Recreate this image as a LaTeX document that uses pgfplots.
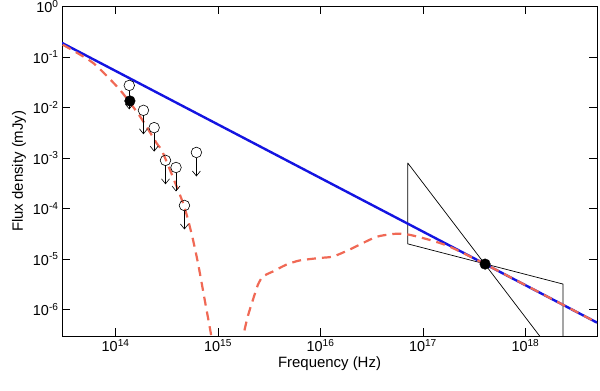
\documentclass[border=0pt]{standalone}
\usepackage{fontspec}
\setmainfont{Liberation Sans}
\usepackage{pgfplots}
\pgfplotsset{compat=1.18}
\usetikzlibrary{arrows.meta}
\definecolor{fitblue}{RGB}{20,20,225}
\definecolor{modelred}{RGB}{240,105,85}

\begin{document}
\begin{tikzpicture}
\begin{axis}[
  name=sed,
  xmode=log, ymode=log, log basis x=10, log basis y=10,
  scale only axis, width=535bp, height=329.5bp,
  xmin=3e13, xmax=5e18, ymin=3e-7, ymax=1,
  axis line style={line width=0.6bp},
  tick align=inside, major tick length=8bp, minor tick length=4bp,
  every tick/.style={black, line width=0.5bp},
  yminorticks=false,
  xtick={1e14,1e15,1e16,1e17,1e18},
  ytick={1e-6,1e-5,1e-4,1e-3,1e-2,1e-1,1},
  xticklabel={10\textsuperscript{\pgfmathprintnumber[fixed,precision=0,assume math mode=true]{\tick}}},
  yticklabel={10\textsuperscript{\pgfmathprintnumber[fixed,precision=0,assume math mode=true]{\tick}}},
  tick label style={font=\fontsize{14.5}{14.5}\selectfont},
  xlabel={Frequency (Hz)},
  ylabel={Flux density (mJy)},
  label style={font=\fontsize{15}{15}\selectfont},
  xlabel style={yshift=2bp},
]
% error bowtie of the X-ray spectrum
\addplot[black, line width=0.7bp] coordinates {
  (7.1e16,8e-4) (2.33e18,7.4e-8) (2.33e18,3.2e-6) (7.1e16,2e-5) (7.1e16,8e-4)};
% power law
\addplot[fitblue, line width=2.4bp] coordinates {(3e13,0.19) (5e18,5.52e-7)};
% model
\addplot[modelred, line width=2.2bp, dash pattern=on 9bp off 6bp, smooth, tension=0.4] coordinates {
  (3.05e13,0.175) (6.05e13,0.076) (1.10e14,0.0225) (1.73e14,6.67e-3)
  (2.51e14,1.98e-3) (2.90e14,1.26e-3) (4.55e14,1.29e-4) (5.50e14,3.27e-5)
  (6.37e14,8.34e-6) (7.41e14,1.56e-6) (8.61e14,2.93e-7) (9.27e14,1e-7)};
\addplot[modelred, line width=2.2bp, dash pattern=on 9bp off 6bp, smooth, tension=0.4] coordinates {
  (1.65e15,1e-7) (1.75e15,2.77e-7) (1.95e15,7.3e-7) (2.19e15,1.56e-6)
  (2.45e15,3.10e-6) (2.74e15,4.52e-6) (3.43e15,5.68e-6) (4.62e15,7.71e-6)
  (6.24e15,9.37e-6) (9.76e15,1.05e-5) (1.32e16,1.12e-5) (1.91e16,1.53e-5)
  (3.48e16,2.73e-5) (5.45e16,3.17e-5) (7.35e16,3.03e-5) (1.15e17,2.41e-5)
  (1.80e17,1.78e-5) (4.04e17,7.96e-6) (5e18,5.52e-7)};
% upper limits
\addplot[black, line width=0.6bp, -{Straight Barb[length=5bp,width=8bp]}] coordinates {(1.36e14,0.0215) (1.36e14,0.00918)};
\addplot[black, line width=0.6bp, -{Straight Barb[length=5bp,width=8bp]}] coordinates {(1.87e14,6.91e-3) (1.87e14,2.95e-3)};
\addplot[black, line width=0.6bp, -{Straight Barb[length=5bp,width=8bp]}] coordinates {(2.38e14,3.14e-3) (2.38e14,1.34e-3)};
\addplot[black, line width=0.6bp, -{Straight Barb[length=5bp,width=8bp]}] coordinates {(3.07e14,7.07e-4) (3.07e14,3.02e-4)};
\addplot[black, line width=0.6bp, -{Straight Barb[length=5bp,width=8bp]}] coordinates {(3.89e14,5.10e-4) (3.89e14,2.18e-4)};
\addplot[black, line width=0.6bp, -{Straight Barb[length=5bp,width=8bp]}] coordinates {(6.15e14,1.01e-3) (6.15e14,4.32e-4)};
\addplot[black, line width=0.6bp, -{Straight Barb[length=5bp,width=8bp]}] coordinates {(4.7e14,9.03e-5) (4.7e14,3.85e-5)};
\addplot[only marks, mark=o, mark size=5.3bp, black, mark options={line width=0.6bp, fill=none}] coordinates {
  (1.36e14,0.0274) (1.87e14,8.8e-3) (2.38e14,4.0e-3) (3.07e14,9.0e-4)
  (3.89e14,6.5e-4) (6.15e14,1.29e-3) (4.7e14,1.15e-4)};
% detections
\addplot[only marks, mark=*, mark size=5.3bp, black] coordinates {(1.38e14,0.0135) (4.04e17,7.96e-6)};
\end{axis}
\pgfresetboundingbox
\path (sed.south west) ++(-62bp,-55bp) rectangle ([xshift=3bp,yshift=6.5bp]sed.north east);
\end{tikzpicture}
\end{document}
